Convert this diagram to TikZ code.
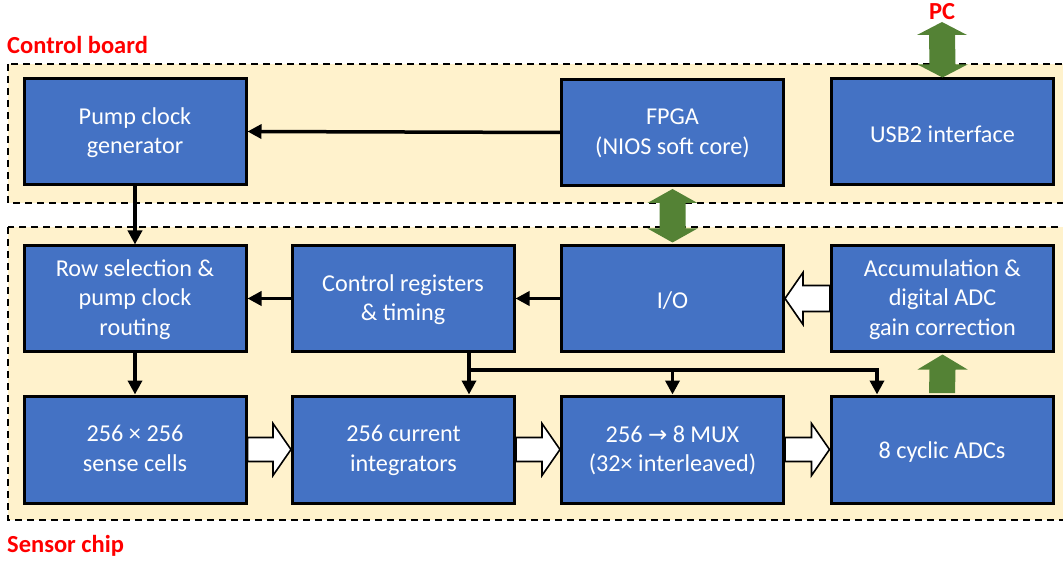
\documentclass[tikz,border=0pt]{standalone}
\usepackage{fontspec}
\setmainfont{Carlito}
\newfontfamily\symfont{DejaVu Sans}
\usetikzlibrary{arrows.meta,calc}
\definecolor{boxblue}{HTML}{4472C4}
\definecolor{cream}{HTML}{FFF2CC}
\definecolor{dgreen}{HTML}{548235}
\definecolor{lblred}{HTML}{FF0000}
\begin{document}
\begin{tikzpicture}[x=1pt,y=-1pt,
  region/.style={fill=cream,draw=black,line width=1.8pt,dash pattern=on 7pt off 5pt},
  block/.style={draw=black,line width=3pt,fill=boxblue,text=white,align=center,
    minimum width=222pt,minimum height=106pt,inner sep=0pt,
    font=\fontsize{24.2}{29.5}\selectfont},
  sline/.style={execute at begin node={\rule{0pt}{22pt}}},
  mline/.style={text depth=2pt},
  conn/.style={draw=black,line width=3.5pt,-{Triangle[length=14pt,width=14pt]}},
  plainconn/.style={draw=black,line width=3.5pt},
  warrow/.style={draw=black,line width=1.6pt,fill=white,line join=miter},
  garrow/.style={fill=dgreen,draw=none},
  lbl/.style={text=lblred,font=\fontsize{24.5}{28}\selectfont\bfseries,inner sep=0pt}]
\useasboundingbox (0,0) rectangle (1063,561);
\clip (0,0) rectangle (1063,561);
% regions
\path[region] (8,64) rectangle (1080,203);
\path[region] (8,227) rectangle (1080,520);
\node[lbl,anchor=base west] (lcb) at (7,54) {Control board};
\node[lbl,anchor=base west] (lsc) at (7,552) {Sensor chip};
\node[lbl,anchor=base] (lpc) at (942,19.5) {PC};
% blocks
\node[block,mline] (pump) at (135,131.5) {Pump clock\\generator};
\node[block,mline] (fpga) at (672.5,132.5) {FPGA\\(NIOS soft core)};
\node[block,sline] (usb) at (942.5,132) {USB2 interface};
\node[block,mline,minimum height=105pt] (rowsel) at (135,298.5) {Row selection \&\\pump clock\\routing};
\node[block,mline,minimum height=105pt] (ctrl) at (403,298.5) {Control registers\\\& timing};
\node[block,sline,minimum height=105pt] (io) at (672.5,298.5) {I/O};
\node[block,mline,minimum height=105pt] (acc) at (942.5,298.5) {Accumulation \&\\digital ADC\\gain correction};
\node[block,mline,minimum height=107pt] (cells) at (135,449.5) {256 × 256\\sense cells};
\node[block,mline,minimum height=107pt] (integ) at (403.5,449.5) {256 current\\integrators};
\node[block,mline,minimum height=107pt] (mux) at (672.5,449.5) {256 {\symfont\fontsize{23}{29}\selectfont →} 8 MUX\\(32× interleaved)};
\node[block,sline,minimum height=107pt] (adc) at (942,449.5) {8 cyclic ADCs};
% black connectors
\draw[conn] (fpga.west) -- (pump.east);
\draw[conn] (pump.south) -- (rowsel.north);
\draw[conn] (ctrl.west) -- (rowsel.east);
\draw[conn] (io.west) -- (ctrl.east);
\draw[conn] (rowsel.south) -- (cells.north);
\coordinate (j) at (469,370);
\coordinate (k) at (877,370);
\draw[plainconn] (ctrl.south -| j) -- (j);
\draw[conn] (j) -- (integ.north -| j);
\draw[conn,line join=miter] (j) -- (k) -- (adc.north -| k);
\draw[conn] (j -| mux.north) -- (mux.north);
% white block arrows
\foreach \a/\b in {cells/integ,integ/mux,mux/adc}{
  \draw[warrow] ($(\a.east)+(0,-12)$) -- ($(\b.west)+(-18,-12)$) -- ($(\b.west)+(-18,-26)$)
    -- (\b.west) -- ($(\b.west)+(-18,26)$) -- ($(\b.west)+(-18,12)$) -- ($(\a.east)+(0,12)$) -- cycle;
}
\draw[warrow] ($(acc.west)+(0,-13)$) -- ($(io.east)+(18,-13)$) -- ($(io.east)+(18,-26)$)
  -- (io.east) -- ($(io.east)+(18,26)$) -- ($(io.east)+(18,13)$) -- ($(acc.west)+(0,13)$) -- cycle;
% green arrows
\coordinate (pctip) at (942,22);
\fill[garrow] (pctip) -- ++(25,13) -- ++(-12,0) -- ($(usb.north)+(13,-13)$) -- ++(12,0)
  -- (usb.north) -- ++(-25,-13) -- ++(12,0) -- ($(pctip)+(-13,13)$) -- ++(-12,0) -- cycle;
\fill[garrow] ($(fpga.south)+(0,2)$) -- ++(25,14) -- ++(-12,0) -- ($(io.north)+(13,-16)$) -- ++(12,0)
  -- ($(io.north)+(0,-2)$) -- ++(-25,-14) -- ++(12,0) -- ($(fpga.south)+(-13,16)$) -- ++(-12,0) -- cycle;
\fill[garrow] ($(acc.south)+(0,2)$) -- ++(25,15) -- ++(-12,0) -- ($(adc.north)+(13,-1.5)$)
  -- ++(-26,0) -- ($(acc.south)+(-13,17)$) -- ++(-12,0) -- cycle;
\end{tikzpicture}
\end{document}
